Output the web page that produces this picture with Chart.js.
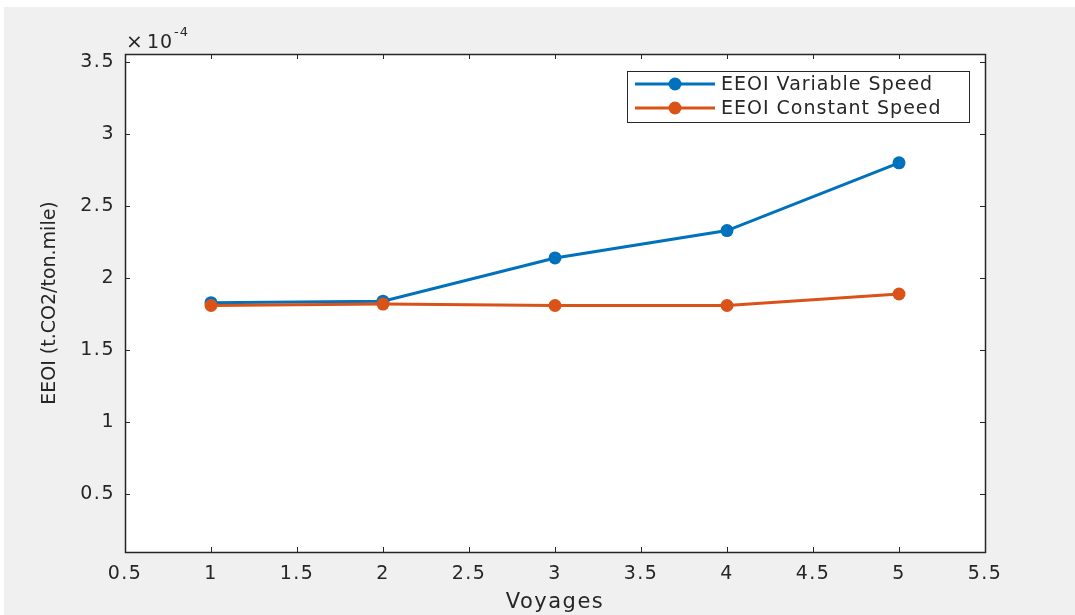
<!DOCTYPE html>
<html>
<head>
<meta charset="utf-8">
<script src="https://cdn.jsdelivr.net/npm/chart.js@4/dist/chart.umd.min.js"></script>
<style>
  html, body { margin: 0; padding: 0; background: #fff; }
  #wrap { width: 1075px; height: 615px; }
</style>
</head>
<body>
<div id="wrap"><canvas id="lineChart" width="1075" height="615"></canvas></div>
<script>
// values (x 1e-4)
var voyages = [1, 2, 3, 4, 5];
var eeoiVariable = [1.83, 1.84, 2.14, 2.33, 2.80];
var eeoiConstant = [1.81, 1.82, 1.81, 1.81, 1.89];
var xTicks = [0.5, 1, 1.5, 2, 2.5, 3, 3.5, 4, 4.5, 5, 5.5];
var yTicks = [0.5, 1, 1.5, 2, 2.5, 3, 3.5];
var seriesLabels = ["EEOI Variable Speed", "EEOI Constant Speed"];
var seriesColors = ["#0072BD", "#D95319"];
var yTitle = "EEOI (t.CO2/ton.mile)";

var axisColor = "#262626";
var fontFam = "'DejaVu Sans', Verdana, sans-serif";

function toPoints(ys){
  var pts = [];
  for(var i = 0; i < voyages.length; i++){
    pts.push({x: voyages[i], y: ys[i]});
  }
  return pts;
}

// figure background, axes box, inner ticks, exponent and legend (matlab look)
var matlabFrame = {
  id: 'matlabFrame',
  beforeDraw: function(chart){
    var ctx = chart.ctx, a = chart.chartArea;
    ctx.fillStyle = '#ffffff';
    ctx.fillRect(0, 0, chart.width, chart.height);
    ctx.fillStyle = '#f0f0f0';
    ctx.fillRect(4, 7, chart.width - 4, chart.height - 7);
    ctx.fillStyle = '#ffffff';
    ctx.fillRect(a.left, a.top, a.right - a.left, a.bottom - a.top);
    // source picture is a bit stretched sideways
    ctx.letterSpacing = '1.5px';
  },
  afterDraw: function(chart){
    var ctx = chart.ctx, a = chart.chartArea;
    var xs = chart.scales.x, ys = chart.scales.y;
    ctx.save();
    ctx.strokeStyle = axisColor;
    ctx.lineWidth = 1;
    ctx.beginPath();
    for(var i = 0; i < xTicks.length; i++){
      var px = Math.round(xs.getPixelForValue(xTicks[i])) + 0.5;
      ctx.moveTo(px, a.bottom); ctx.lineTo(px, a.bottom - 5);
      ctx.moveTo(px, a.top); ctx.lineTo(px, a.top + 5);
    }
    for(var j = 0; j < yTicks.length; j++){
      var py = Math.round(ys.getPixelForValue(yTicks[j])) + 0.5;
      ctx.moveTo(a.left, py); ctx.lineTo(a.left + 5, py);
      ctx.moveTo(a.right, py); ctx.lineTo(a.right - 5, py);
    }
    ctx.stroke();
    ctx.lineWidth = 1.5;
    ctx.strokeRect(a.left + 0.5, a.top + 0.5, a.right - a.left, a.bottom - a.top);

    // x 10^-4
    ctx.fillStyle = axisColor;
    ctx.textBaseline = 'alphabetic';
    ctx.textAlign = 'left';
    ctx.letterSpacing = '1px';
    ctx.font = "20px " + fontFam;
    ctx.fillText("\u00d7", a.left + 1, a.top - 6);
    ctx.font = "19px " + fontFam;
    ctx.fillText("10", a.left + 22, a.top - 6);
    ctx.font = "13px " + fontFam;
    ctx.fillText("-4", a.left + 49, a.top - 18);

    // y title, drawn here so it can have its own spacing
    ctx.save();
    ctx.letterSpacing = '0px';
    ctx.font = "19px " + fontFam;
    ctx.textAlign = 'center';
    ctx.textBaseline = 'middle';
    ctx.translate(50, (a.top + a.bottom) / 2);
    ctx.rotate(-Math.PI / 2);
    ctx.fillText(yTitle, 0, 0);
    ctx.restore();

    // legend
    var lx = 627, ly = a.top + 17, lw = 342, lh = 51;
    ctx.fillStyle = '#ffffff';
    ctx.fillRect(lx, ly, lw, lh);
    ctx.lineWidth = 1;
    ctx.strokeStyle = axisColor;
    ctx.strokeRect(lx + 0.5, ly + 0.5, lw, lh);
    ctx.font = "19px " + fontFam;
    ctx.letterSpacing = '1px';
    ctx.textBaseline = 'middle';
    ctx.textAlign = 'left';
    for(var k = 0; k < seriesLabels.length; k++){
      var ry = ly + 13 + k * 24;
      ctx.strokeStyle = seriesColors[k];
      ctx.lineWidth = 3;
      ctx.beginPath();
      ctx.moveTo(lx + 8, ry); ctx.lineTo(lx + 88, ry);
      ctx.stroke();
      ctx.fillStyle = seriesColors[k];
      ctx.beginPath();
      ctx.arc(lx + 48, ry, 6.5, 0, Math.PI * 2);
      ctx.fill();
      ctx.fillStyle = axisColor;
      ctx.fillText(seriesLabels[k], lx + 94, ry + 1);
    }
    ctx.restore();
    ctx.letterSpacing = '0px';
  }
};

var ctxL = document.getElementById("lineChart").getContext('2d');
var myLineChart = new Chart(ctxL, {
  type: 'line',
  data: {
    datasets: [
      {
        label: seriesLabels[0],
        data: toPoints(eeoiVariable),
        borderColor: seriesColors[0],
        backgroundColor: seriesColors[0],
        borderWidth: 3,
        pointRadius: 6.5,
        pointBorderWidth: 0,
        order: 2
      },
      {
        label: seriesLabels[1],
        data: toPoints(eeoiConstant),
        borderColor: seriesColors[1],
        backgroundColor: seriesColors[1],
        borderWidth: 3,
        pointRadius: 6.5,
        pointBorderWidth: 0,
        order: 1
      }
    ]
  },
  options: {
    responsive: false,
    animation: false,
    devicePixelRatio: 1,
    layout: { padding: { top: 54, right: 90, left: 0, bottom: 0 } },
    plugins: {
      legend: { display: false },
      tooltip: { enabled: false }
    },
    scales: {
      x: {
        type: 'linear',
        min: 0.5,
        max: 5.5,
        afterBuildTicks: function(s){ s.ticks = xTicks.map(function(v){ return {value: v}; }); },
        afterFit: function(s){ s.height = 63; },
        grid: { display: false, drawTicks: false },
        border: { display: false },
        ticks: {
          color: axisColor,
          font: { family: fontFam, size: 19 },
          padding: 11,
          maxRotation: 0,
          autoSkip: false,
          callback: function(v){ return String(v); }
        },
        title: {
          display: true,
          text: 'Voyages',
          color: axisColor,
          font: { family: fontFam, size: 21 },
          padding: { top: 0, bottom: 0 }
        }
      },
      y: {
        type: 'linear',
        min: 0.1,
        max: 3.555,
        afterBuildTicks: function(s){ s.ticks = yTicks.map(function(v){ return {value: v}; }); },
        afterFit: function(s){ s.width = 125; },
        grid: { display: false, drawTicks: false },
        border: { display: false },
        ticks: {
          color: axisColor,
          font: { family: fontFam, size: 19 },
          padding: 10,
          autoSkip: false,
          callback: function(v){ return String(v); }
        },
        title: { display: false }
      }
    }
  },
  plugins: [matlabFrame]
});
</script>
</body>
</html>
